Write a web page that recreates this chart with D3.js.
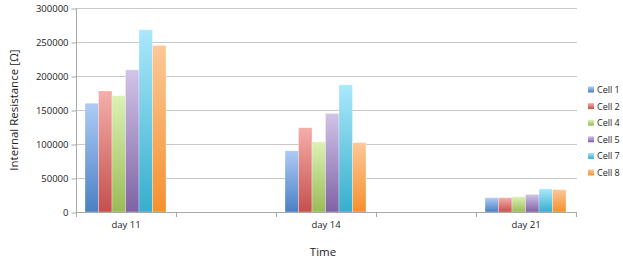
<!DOCTYPE html>
<html>
<head>
<meta charset="utf-8">
<script src="https://cdn.jsdelivr.net/npm/d3@7"></script>
<style>
  body { margin: 0; background: #fff; }
  text { font-family: "Open Sans", "Liberation Sans", sans-serif; fill: #222; }
</style>
</head>
<body>
<svg width="623" height="259"></svg>
<script>
// categories (blank slots keep the spacing of the original date axis)
var days = ["day 11", "gap1", "day 14", "gap2", "day 21"];
var dayLabels = {"day 11": "day 11", "gap1": "", "day 14": "day 14", "gap2": "", "day 21": "day 21"};
var cells = ["Cell 1", "Cell 2", "Cell 4", "Cell 5", "Cell 7", "Cell 8"];

// values per cell, in order day 11, day 14, day 21
var cell1 = [160000, 90000, 21000];
var cell2 = [178000, 124000, 21000];
var cell4 = [171000, 103000, 22500];
var cell5 = [209000, 145000, 26000];
var cell7 = [268000, 187000, 34000];
var cell8 = [245000, 102000, 33000];
var yTicks = [0, 50000, 100000, 150000, 200000, 250000, 300000];

var topColors = ["#aecbf5", "#f6aeab", "#dcf1b5", "#d2c4e8", "#abe8fb", "#fdc898"];
var botColors = ["#4a80c4", "#c4504c", "#9abb57", "#7f62a4", "#36aecd", "#f5902e"];

var series = [cell1, cell2, cell4, cell5, cell7, cell8];
var dataDays = ["day 11", "day 14", "day 21"];

var margin = {top: 8, left: 76, right: 46, bottom: 47};
var width = 500, height = 204;

var svg = d3.select("svg");
var g = svg.append("g")
    .attr("transform", "translate(" + margin.left + "," + margin.top + ")");

var defs = svg.append("defs");
cells.forEach(function(c, i) {
  var grad = defs.append("linearGradient")
      .attr("id", "grad" + i)
      .attr("x1", 0).attr("y1", 0).attr("x2", 0).attr("y2", 1);
  grad.append("stop").attr("offset", "0%").attr("stop-color", topColors[i]);
  grad.append("stop").attr("offset", "100%").attr("stop-color", botColors[i]);
});

var x = d3.scaleBand().domain(days).range([0, width]);
var x1 = d3.scaleBand().domain(cells).range([9, x.bandwidth() - 10]);
var y = d3.scaleLinear().domain([0, 300000]).range([height, 0]);

// gridlines
g.selectAll(".grid")
    .data(yTicks.slice(1))
  .enter().append("line")
    .attr("x1", 0).attr("x2", width + 1)
    .attr("y1", function(d) { return y(d) + 0.5; })
    .attr("y2", function(d) { return y(d) + 0.5; })
    .attr("stroke", "#c8c8c8");

// y axis
var yAxis = g.append("g")
    .attr("transform", "translate(0.5,0.5)")
    .call(d3.axisLeft(y).tickValues(yTicks).tickSize(5).tickPadding(3).tickFormat(d3.format("d")));
yAxis.select(".domain").attr("stroke", "#a8a8a8").attr("d", "M0," + height + "V0");
yAxis.selectAll(".tick line").attr("stroke", "#a8a8a8");
yAxis.selectAll("text").style("font-size", "9.5px").attr("fill", "#222");

// bars
var barData = [];
series.forEach(function(vals, i) {
  vals.forEach(function(v, j) {
    barData.push({cell: cells[i], idx: i, day: dataDays[j], value: v});
  });
});

g.selectAll(".bar")
    .data(barData)
  .enter().append("rect")
    .attr("class", "bar")
    .attr("x", function(d) { return x(d.day) + x1(d.cell); })
    .attr("width", x1.bandwidth())
    .attr("y", function(d) { return y(d.value); })
    .attr("height", function(d) { return height - y(d.value); })
    .attr("fill", function(d) { return "url(#grad" + d.idx + ")"; })
    .attr("stroke", "rgba(255,255,255,0.5)")
    .attr("stroke-width", 0.6);

// x axis
var xAxis = g.append("g")
    .attr("transform", "translate(0," + (height + 0.5) + ")")
    .call(d3.axisBottom(x).tickSize(0).tickPadding(9).tickFormat(function(d) { return dayLabels[d]; }));
xAxis.select(".domain").attr("stroke", "#a8a8a8").attr("d", "M0,0H" + (width + 1));
xAxis.selectAll("text").style("font-size", "9.5px").attr("fill", "#222");

// category boundary ticks
g.selectAll(".xtick")
    .data(days.concat(["end"]))
  .enter().append("line")
    .attr("x1", function(d, i) { return i * x.bandwidth() + 0.5; })
    .attr("x2", function(d, i) { return i * x.bandwidth() + 0.5; })
    .attr("y1", height)
    .attr("y2", height + 5)
    .attr("stroke", "#a8a8a8");

// axis titles
svg.append("text")
    .attr("transform", "translate(18," + (margin.top + height / 2) + ") rotate(-90)")
    .attr("text-anchor", "middle")
    .style("font-size", "11.5px")
    .text("Internal Resistance [\u03A9]");

svg.append("text")
    .attr("x", margin.left + width / 2 - 3)
    .attr("y", 256)
    .attr("text-anchor", "middle")
    .style("font-size", "11.5px")
    .text("Time");

// legend
var legend = svg.append("g").attr("transform", "translate(588,90)");
var item = legend.selectAll(".item")
    .data(cells)
  .enter().append("g")
    .attr("transform", function(d, i) { return "translate(0," + (i * 16.6) + ")"; });
item.append("rect")
    .attr("x", 0).attr("y", -3.5)
    .attr("width", 6).attr("height", 6)
    .attr("fill", function(d, i) { return "url(#grad" + i + ")"; });
item.append("text")
    .attr("x", 9).attr("y", 3)
    .style("font-size", "9px")
    .text(function(d) { return d; });
</script>
</body>
</html>
